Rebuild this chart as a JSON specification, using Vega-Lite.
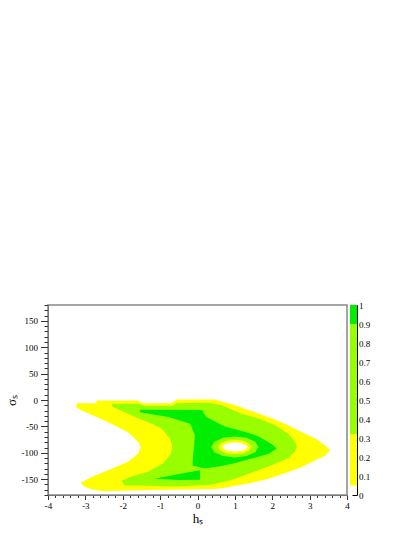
{
  "$schema": "https://vega.github.io/schema/vega-lite/v6.json",
  "padding": {"left": 4, "top": 300, "right": 5, "bottom": 5},
  "background": "white",
  "config": {
    "font": "Liberation Serif",
    "axis": {"labelFont": "Liberation Serif", "titleFont": "Liberation Serif", "titleFontWeight": "normal", "labelFontSize": 9, "titleFontSize": 13, "grid": false, "labelFlush": false, "labelOverlap": false, "labelBound": false, "labelColor": "#000", "titleColor": "#000"}
  },
  "spacing": 3,
  "bounds": "flush",
  "hconcat": [
    {
      "width": 299,
      "height": 190,
      "view": {"stroke": "#888888", "strokeWidth": 1.5},
      "data": {"values": [
        {"p": "Y", "i": 1, "h": -3.22, "s": -6}, {"p": "Y", "i": 2, "h": -2.71, "s": -6}, {"p": "Y", "i": 3, "h": -2.70, "s": -1}, {"p": "Y", "i": 4, "h": -1.60, "s": -1}, {"p": "Y", "i": 5, "h": -1.45, "s": -6}, {"p": "Y", "i": 6, "h": -0.70, "s": -6}, {"p": "Y", "i": 7, "h": -0.55, "s": 1}, {"p": "Y", "i": 8, "h": 0.46, "s": 1}, {"p": "Y", "i": 9, "h": 0.65, "s": -3}, {"p": "Y", "i": 10, "h": 1.0, "s": -10}, {"p": "Y", "i": 11, "h": 1.54, "s": -23}, {"p": "Y", "i": 12, "h": 1.90, "s": -32}, {"p": "Y", "i": 13, "h": 2.34, "s": -45}, {"p": "Y", "i": 14, "h": 2.79, "s": -61}, {"p": "Y", "i": 15, "h": 3.15, "s": -73}, {"p": "Y", "i": 16, "h": 3.42, "s": -86}, {"p": "Y", "i": 17, "h": 3.55, "s": -95}, {"p": "Y", "i": 18, "h": 3.42, "s": -105}, {"p": "Y", "i": 19, "h": 3.15, "s": -114}, {"p": "Y", "i": 20, "h": 2.79, "s": -127}, {"p": "Y", "i": 21, "h": 2.34, "s": -139}, {"p": "Y", "i": 22, "h": 1.90, "s": -149}, {"p": "Y", "i": 23, "h": 1.45, "s": -157}, {"p": "Y", "i": 24, "h": 1.00, "s": -163}, {"p": "Y", "i": 25, "h": 0.56, "s": -168}, {"p": "Y", "i": 26, "h": 0.11, "s": -169}, {"p": "Y", "i": 27, "h": -1.5, "s": -171}, {"p": "Y", "i": 28, "h": -2.55, "s": -173}, {"p": "Y", "i": 29, "h": -2.84, "s": -169}, {"p": "Y", "i": 30, "h": -3.05, "s": -163}, {"p": "Y", "i": 31, "h": -3.12, "s": -157}, {"p": "Y", "i": 32, "h": -3.0, "s": -152}, {"p": "Y", "i": 33, "h": -2.84, "s": -146}, {"p": "Y", "i": 34, "h": -2.39, "s": -133}, {"p": "Y", "i": 35, "h": -1.86, "s": -117}, {"p": "Y", "i": 36, "h": -1.59, "s": -102}, {"p": "Y", "i": 37, "h": -1.52, "s": -89}, {"p": "Y", "i": 38, "h": -1.59, "s": -79}, {"p": "Y", "i": 39, "h": -1.86, "s": -61}, {"p": "Y", "i": 40, "h": -2.39, "s": -42}, {"p": "Y", "i": 41, "h": -3.15, "s": -18}, {"p": "Y", "i": 42, "h": -3.26, "s": -13},
        {"p": "L", "i": 1, "h": -2.28, "s": -7}, {"p": "L", "i": 2, "h": -1.55, "s": -7}, {"p": "L", "i": 3, "h": -1.42, "s": -11}, {"p": "L", "i": 4, "h": -0.68, "s": -11}, {"p": "L", "i": 5, "h": -0.55, "s": -6}, {"p": "L", "i": 6, "h": 0.29, "s": -5}, {"p": "L", "i": 7, "h": 0.65, "s": -10}, {"p": "L", "i": 8, "h": 1.18, "s": -26}, {"p": "L", "i": 9, "h": 1.63, "s": -35}, {"p": "L", "i": 10, "h": 2.08, "s": -48}, {"p": "L", "i": 11, "h": 2.43, "s": -64}, {"p": "L", "i": 12, "h": 2.62, "s": -80}, {"p": "L", "i": 13, "h": 2.66, "s": -89}, {"p": "L", "i": 14, "h": 2.60, "s": -98}, {"p": "L", "i": 15, "h": 2.43, "s": -110}, {"p": "L", "i": 16, "h": 2.08, "s": -121}, {"p": "L", "i": 17, "h": 1.63, "s": -133}, {"p": "L", "i": 18, "h": 1.18, "s": -145}, {"p": "L", "i": 19, "h": 0.73, "s": -155}, {"p": "L", "i": 20, "h": 0.29, "s": -161}, {"p": "L", "i": 21, "h": -0.61, "s": -164}, {"p": "L", "i": 22, "h": -1.50, "s": -162}, {"p": "L", "i": 23, "h": -1.95, "s": -162}, {"p": "L", "i": 24, "h": -2.03, "s": -153}, {"p": "L", "i": 25, "h": -1.77, "s": -145}, {"p": "L", "i": 26, "h": -1.32, "s": -136}, {"p": "L", "i": 27, "h": -0.92, "s": -120}, {"p": "L", "i": 28, "h": -0.71, "s": -102}, {"p": "L", "i": 29, "h": -0.68, "s": -86}, {"p": "L", "i": 30, "h": -0.74, "s": -73}, {"p": "L", "i": 31, "h": -0.96, "s": -54}, {"p": "L", "i": 32, "h": -1.32, "s": -42}, {"p": "L", "i": 33, "h": -1.77, "s": -29}, {"p": "L", "i": 34, "h": -2.28, "s": -13},
        {"p": "G", "i": 1, "h": -1.54, "s": -18.5}, {"p": "G", "i": 2, "h": 0.11, "s": -19}, {"p": "G", "i": 3, "h": 0.24, "s": -32}, {"p": "G", "i": 4, "h": 0.73, "s": -50}, {"p": "G", "i": 5, "h": 1.26, "s": -60}, {"p": "G", "i": 6, "h": 1.64, "s": -69}, {"p": "G", "i": 7, "h": 1.99, "s": -84}, {"p": "G", "i": 8, "h": 2.12, "s": -92}, {"p": "G", "i": 9, "h": 1.91, "s": -102}, {"p": "G", "i": 10, "h": 1.45, "s": -111}, {"p": "G", "i": 11, "h": 0.99, "s": -120}, {"p": "G", "i": 12, "h": 0.57, "s": -126}, {"p": "G", "i": 13, "h": 0.19, "s": -130}, {"p": "G", "i": 14, "h": -0.13, "s": -124}, {"p": "G", "i": 15, "h": -0.13, "s": -117}, {"p": "G", "i": 16, "h": -0.11, "s": -98}, {"p": "G", "i": 17, "h": -0.09, "s": -86}, {"p": "G", "i": 18, "h": -0.07, "s": -67}, {"p": "G", "i": 19, "h": -0.16, "s": -51}, {"p": "G", "i": 20, "h": -0.20, "s": -45}, {"p": "G", "i": 21, "h": -0.78, "s": -32}, {"p": "G", "i": 22, "h": -1.54, "s": -23},
        {"p": "W", "i": 1, "h": -1.15, "s": -149}, {"p": "W", "i": 2, "h": -0.5, "s": -140}, {"p": "W", "i": 3, "h": 0.07, "s": -133}, {"p": "W", "i": 4, "h": 0.07, "s": -151}, {"p": "W", "i": 5, "h": -0.5, "s": -151.5},
        {"p": "R1", "i": 1, "h": 1.63, "s": -89}, {"p": "R1", "i": 2, "h": 1.546, "s": -79}, {"p": "R1", "i": 3, "h": 1.315, "s": -71.7}, {"p": "R1", "i": 4, "h": 1.0, "s": -69}, {"p": "R1", "i": 5, "h": 0.685, "s": -71.7}, {"p": "R1", "i": 6, "h": 0.454, "s": -79}, {"p": "R1", "i": 7, "h": 0.37, "s": -89}, {"p": "R1", "i": 8, "h": 0.454, "s": -99}, {"p": "R1", "i": 9, "h": 0.685, "s": -106.3}, {"p": "R1", "i": 10, "h": 1.0, "s": -109}, {"p": "R1", "i": 11, "h": 1.315, "s": -106.3}, {"p": "R1", "i": 12, "h": 1.546, "s": -99},
        {"p": "R2", "i": 1, "h": 1.44, "s": -89}, {"p": "R2", "i": 2, "h": 1.381, "s": -82.25}, {"p": "R2", "i": 3, "h": 1.22, "s": -77.3}, {"p": "R2", "i": 4, "h": 1.0, "s": -75.5}, {"p": "R2", "i": 5, "h": 0.78, "s": -77.3}, {"p": "R2", "i": 6, "h": 0.619, "s": -82.25}, {"p": "R2", "i": 7, "h": 0.56, "s": -89}, {"p": "R2", "i": 8, "h": 0.619, "s": -95.75}, {"p": "R2", "i": 9, "h": 0.78, "s": -100.7}, {"p": "R2", "i": 10, "h": 1.0, "s": -102.5}, {"p": "R2", "i": 11, "h": 1.22, "s": -100.7}, {"p": "R2", "i": 12, "h": 1.381, "s": -95.75},
        {"p": "H", "i": 1, "h": 1.34, "s": -89}, {"p": "H", "i": 2, "h": 1.294, "s": -84.75}, {"p": "H", "i": 3, "h": 1.17, "s": -81.6}, {"p": "H", "i": 4, "h": 1.0, "s": -80.5}, {"p": "H", "i": 5, "h": 0.83, "s": -81.6}, {"p": "H", "i": 6, "h": 0.706, "s": -84.75}, {"p": "H", "i": 7, "h": 0.66, "s": -89}, {"p": "H", "i": 8, "h": 0.706, "s": -93.25}, {"p": "H", "i": 9, "h": 0.83, "s": -96.4}, {"p": "H", "i": 10, "h": 1.0, "s": -97.5}, {"p": "H", "i": 11, "h": 1.17, "s": -96.4}, {"p": "H", "i": 12, "h": 1.294, "s": -93.25}
      ]},
      "encoding": {
        "x": {"field": "h", "type": "quantitative", "scale": {"domain": [-4, 4], "nice": false, "zero": false},
          "axis": {"title": "hₛ", "titlePadding": 2, "domainColor": "#777777", "tickColor": "#333333",
            "values": [-4, -3.8, -3.6, -3.4, -3.2, -3, -2.8, -2.6, -2.4, -2.2, -2, -1.8, -1.6, -1.4, -1.2, -1, -0.8, -0.6, -0.4, -0.2, 0, 0.2, 0.4, 0.6, 0.8, 1, 1.2, 1.4, 1.6, 1.8, 2, 2.2, 2.4, 2.6, 2.8, 3, 3.2, 3.4, 3.6, 3.8, 4],
            "labelExpr": "abs(datum.value - round(datum.value)) < 0.001 ? '' + round(datum.value) : ''",
            "tickSize": {"condition": {"test": "abs(datum.value - round(datum.value)) < 0.001", "value": 4.5}, "value": 2.5},
            "labelPadding": 2}},
        "y": {"field": "s", "type": "quantitative", "scale": {"domain": [-180, 180], "nice": false, "zero": false},
          "axis": {"title": "σₛ", "titlePadding": 3, "domainColor": "#777777", "tickColor": "#333333",
            "values": [-180, -170, -160, -150, -140, -130, -120, -110, -100, -90, -80, -70, -60, -50, -40, -30, -20, -10, 0, 10, 20, 30, 40, 50, 60, 70, 80, 90, 100, 110, 120, 130, 140, 150, 160, 170, 180],
            "labelExpr": "datum.value % 50 === 0 ? '' + datum.value : ''",
            "tickSize": {"condition": {"test": "datum.value % 50 === 0", "value": 7.5}, "value": 4},
            "labelPadding": 3}},
        "order": {"field": "i", "type": "quantitative"}
      },
      "layer": [
        {"transform": [{"filter": "datum.p === 'Y'"}], "mark": {"type": "line", "interpolate": "linear-closed", "fill": "#ffff00", "strokeWidth": 0, "strokeOpacity": 0, "clip": true}},
        {"transform": [{"filter": "datum.p === 'L'"}], "mark": {"type": "line", "interpolate": "linear-closed", "fill": "#99ff00", "strokeWidth": 0, "strokeOpacity": 0, "clip": true}},
        {"transform": [{"filter": "datum.p === 'G'"}], "mark": {"type": "line", "interpolate": "linear-closed", "fill": "#00ee00", "strokeWidth": 0, "strokeOpacity": 0, "clip": true}},
        {"transform": [{"filter": "datum.p === 'W'"}], "mark": {"type": "line", "interpolate": "linear-closed", "fill": "#00ee00", "strokeWidth": 0, "strokeOpacity": 0, "clip": true}},
        {"transform": [{"filter": "datum.p === 'R1'"}], "mark": {"type": "line", "interpolate": "linear-closed", "fill": "#99ff00", "strokeWidth": 0, "strokeOpacity": 0, "clip": true}},
        {"transform": [{"filter": "datum.p === 'R2'"}], "mark": {"type": "line", "interpolate": "linear-closed", "fill": "#ffff00", "strokeWidth": 0, "strokeOpacity": 0, "clip": true}},
        {"transform": [{"filter": "datum.p === 'H'"}], "mark": {"type": "line", "interpolate": "linear-closed", "fill": "#ffffff", "strokeWidth": 0, "strokeOpacity": 0, "clip": true}}
      ]
    },
    {
      "width": 7,
      "height": 190,
      "view": {"stroke": null},
      "data": {"values": [
        {"lo": 0, "hi": 0.05, "band": "b0"},
        {"lo": 0.05, "hi": 0.32, "band": "b1"},
        {"lo": 0.32, "hi": 0.9, "band": "b2"},
        {"lo": 0.9, "hi": 1, "band": "b3"}
      ]},
      "mark": {"type": "rect"},
      "encoding": {
        "x": {"datum": 0, "type": "quantitative", "scale": {"domain": [0, 1], "nice": false}, "axis": null},
        "x2": {"datum": 1},
        "y": {"field": "lo", "type": "quantitative", "scale": {"domain": [0, 1], "nice": false, "zero": false},
          "axis": {"orient": "right", "title": null, "domainColor": "#000000", "tickColor": "#000000", "tickSize": -5, "labelPadding": 6.5,
            "values": [0, 0.1, 0.2, 0.3, 0.4, 0.5, 0.6, 0.7, 0.8, 0.9, 1],
            "labelExpr": "'' + datum.value"}},
        "y2": {"field": "hi"},
        "color": {"field": "band", "type": "nominal", "scale": {"domain": ["b0", "b1", "b2", "b3"], "range": ["#ffffff", "#ffff00", "#99ff00", "#00ee00"]}, "legend": null}
      }
    }
  ]
}
